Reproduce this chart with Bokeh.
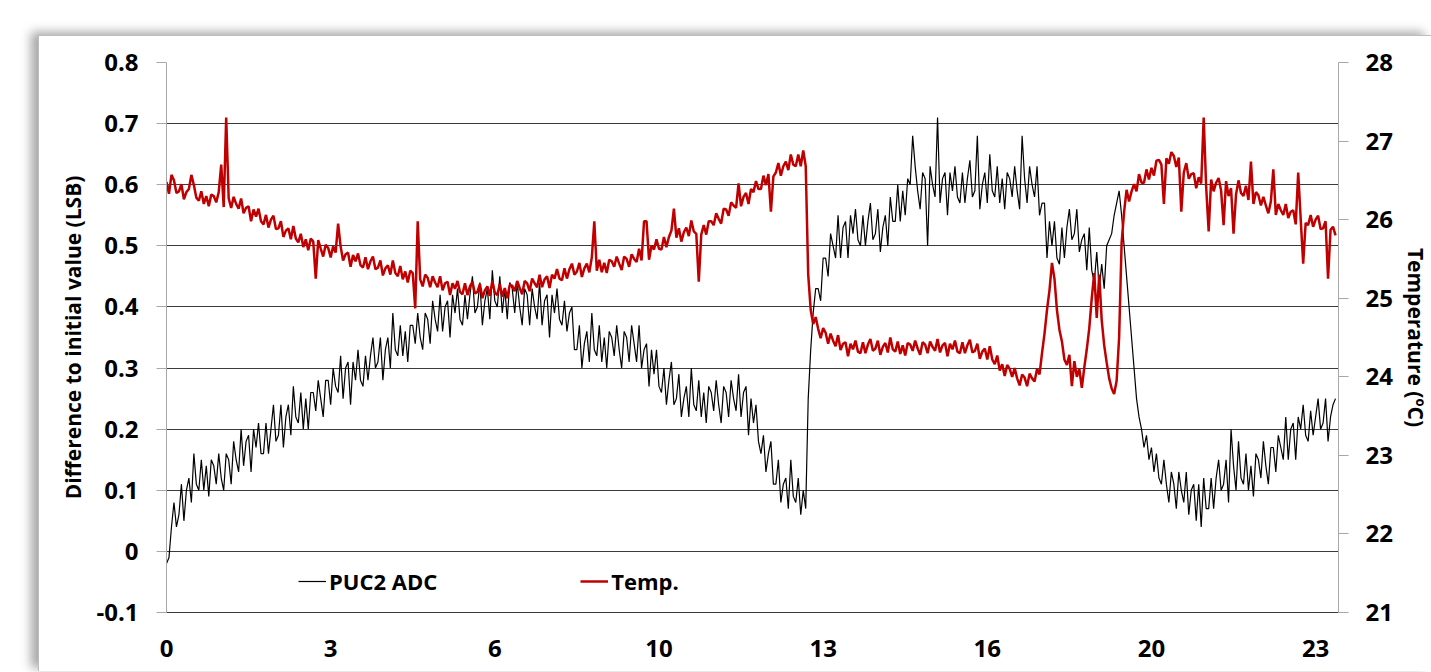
from bokeh.plotting import figure
from bokeh.models import Range1d, LinearAxis, FixedTicker, Legend, LegendItem
from bokeh.embed import file_html
from bokeh.resources import INLINE

# time grid (hours, one sample per 0.05 h)
hours = [round(i * 0.05, 2) for i in range(471)]

# PUC2 ADC: difference to initial value (LSB) (20 samples per hour)
adc = [
    -0.02, -0.01, 0.04, 0.08, 0.04, 0.06, 0.11, 0.05, 0.10, 0.12, 0.08, 0.16, 0.11, 0.10, 0.15, 0.10, 0.14, 0.09, 0.15, 0.14,
    0.11, 0.16, 0.12, 0.10, 0.16, 0.15, 0.11, 0.18, 0.15, 0.13, 0.20, 0.14, 0.18, 0.19, 0.13, 0.20, 0.17, 0.21, 0.16, 0.16,
    0.21, 0.16, 0.20, 0.24, 0.18, 0.19, 0.24, 0.17, 0.22, 0.24, 0.19, 0.27, 0.22, 0.21, 0.26, 0.20, 0.25, 0.20, 0.26, 0.26,
    0.23, 0.28, 0.25, 0.22, 0.28, 0.28, 0.24, 0.30, 0.27, 0.26, 0.32, 0.25, 0.30, 0.31, 0.24, 0.31, 0.28, 0.33, 0.28, 0.27,
    0.32, 0.28, 0.32, 0.35, 0.30, 0.31, 0.35, 0.28, 0.33, 0.35, 0.30, 0.39, 0.33, 0.32, 0.37, 0.32, 0.36, 0.31, 0.37, 0.37,
    0.34, 0.39, 0.35, 0.33, 0.39, 0.38, 0.34, 0.41, 0.38, 0.36, 0.42, 0.36, 0.40, 0.41, 0.35, 0.42, 0.39, 0.43, 0.38, 0.37,
    0.42, 0.38, 0.42, 0.45, 0.39, 0.40, 0.44, 0.37, 0.41, 0.43, 0.38, 0.46, 0.41, 0.40, 0.45, 0.39, 0.43, 0.38, 0.44, 0.43,
    0.39, 0.44, 0.40, 0.37, 0.43, 0.42, 0.37, 0.43, 0.40, 0.38, 0.44, 0.37, 0.41, 0.42, 0.35, 0.42, 0.39, 0.43, 0.38, 0.37,
    0.41, 0.36, 0.39, 0.40, 0.33, 0.33, 0.37, 0.30, 0.34, 0.36, 0.31, 0.39, 0.33, 0.32, 0.37, 0.31, 0.35, 0.30, 0.36, 0.35,
    0.32, 0.37, 0.33, 0.30, 0.36, 0.35, 0.31, 0.37, 0.34, 0.31, 0.37, 0.30, 0.33, 0.34, 0.27, 0.33, 0.29, 0.33, 0.27, 0.26,
    0.30, 0.24, 0.28, 0.31, 0.24, 0.25, 0.29, 0.22, 0.25, 0.27, 0.22, 0.30, 0.24, 0.23, 0.28, 0.22, 0.26, 0.21, 0.27, 0.26,
    0.23, 0.28, 0.24, 0.21, 0.27, 0.26, 0.22, 0.28, 0.25, 0.23, 0.29, 0.22, 0.26, 0.27, 0.19, 0.25, 0.21, 0.24, 0.18, 0.16,
    0.19, 0.13, 0.16, 0.18, 0.11, 0.11, 0.15, 0.08, 0.11, 0.12, 0.07, 0.15, 0.09, 0.08, 0.12, 0.06, 0.10, 0.07, 0.25, 0.33,
    0.39, 0.43, 0.43, 0.41, 0.48, 0.48, 0.45, 0.52, 0.50, 0.48, 0.55, 0.48, 0.53, 0.54, 0.48, 0.55, 0.52, 0.56, 0.51, 0.50,
    0.55, 0.50, 0.54, 0.57, 0.51, 0.52, 0.56, 0.49, 0.53, 0.55, 0.50, 0.58, 0.54, 0.54, 0.60, 0.54, 0.59, 0.55, 0.61, 0.60,
    0.68, 0.63, 0.59, 0.56, 0.62, 0.61, 0.50, 0.63, 0.60, 0.58, 0.71, 0.57, 0.61, 0.62, 0.55, 0.62, 0.59, 0.63, 0.58, 0.57,
    0.62, 0.57, 0.61, 0.64, 0.58, 0.59, 0.68, 0.56, 0.60, 0.62, 0.57, 0.65, 0.59, 0.58, 0.63, 0.57, 0.61, 0.56, 0.62, 0.61,
    0.58, 0.63, 0.59, 0.56, 0.68, 0.61, 0.57, 0.63, 0.60, 0.58, 0.63, 0.55, 0.57, 0.57, 0.48, 0.54, 0.50, 0.54, 0.48, 0.47,
    0.53, 0.48, 0.53, 0.56, 0.51, 0.52, 0.56, 0.49, 0.51, 0.52, 0.46, 0.53, 0.46, 0.44, 0.49, 0.43, 0.47, 0.43, 0.50, 0.51,
    0.52, 0.55, 0.57, 0.59, 0.55, 0.50, 0.45, 0.40, 0.35, 0.30, 0.25, 0.22, 0.20, 0.17, 0.19, 0.15, 0.17, 0.13, 0.16, 0.12,
    0.11, 0.15, 0.11, 0.08, 0.13, 0.11, 0.07, 0.13, 0.10, 0.08, 0.13, 0.06, 0.10, 0.11, 0.05, 0.11, 0.04, 0.12, 0.07, 0.07,
    0.12, 0.07, 0.12, 0.15, 0.10, 0.11, 0.15, 0.08, 0.20, 0.14, 0.10, 0.18, 0.12, 0.11, 0.16, 0.10, 0.14, 0.09, 0.16, 0.15,
    0.12, 0.18, 0.14, 0.11, 0.17, 0.17, 0.13, 0.19, 0.17, 0.15, 0.22, 0.15, 0.20, 0.21, 0.15, 0.22, 0.20, 0.24, 0.19, 0.18,
    0.23, 0.19, 0.22, 0.25, 0.20, 0.21, 0.25, 0.18, 0.22, 0.24, 0.25,
]

# Temperature (deg C) (20 samples per hour)
temp = [
    26.48, 26.33, 26.57, 26.50, 26.34, 26.36, 26.45, 26.26, 26.35, 26.39, 26.57, 26.44, 26.28, 26.24, 26.36, 26.20, 26.30, 26.17, 26.32, 26.30,
    26.22, 26.35, 26.70, 26.16, 27.30, 26.27, 26.15, 26.29, 26.20, 26.14, 26.27, 26.08, 26.15, 26.17, 25.98, 26.13, 26.04, 26.14, 25.98, 25.94,
    26.06, 25.90, 26.00, 26.05, 25.88, 25.89, 25.98, 25.78, 25.86, 25.89, 25.75, 25.92, 25.76, 25.71, 25.82, 25.65, 25.75, 25.61, 25.76, 25.72,
    25.25, 25.74, 25.63, 25.53, 25.68, 25.64, 25.52, 25.66, 25.58, 25.95, 25.66, 25.48, 25.56, 25.58, 25.40, 25.55, 25.47, 25.57, 25.42, 25.39,
    25.52, 25.37, 25.47, 25.53, 25.37, 25.39, 25.48, 25.29, 25.38, 25.42, 25.30, 25.48, 25.32, 25.28, 25.41, 25.24, 25.34, 25.20, 25.35, 25.32,
    24.87, 25.98, 25.24, 25.15, 25.30, 25.26, 25.14, 25.28, 25.20, 25.14, 25.28, 25.10, 25.19, 25.21, 25.04, 25.19, 25.12, 25.22, 25.08, 25.05,
    25.19, 25.04, 25.15, 25.21, 25.06, 25.08, 25.18, 25.00, 25.10, 25.15, 25.03, 25.22, 25.07, 25.04, 25.18, 25.02, 25.13, 25.00, 25.17, 25.16,
    25.09, 25.22, 25.13, 25.05, 25.22, 25.19, 25.09, 25.25, 25.19, 25.14, 25.30, 25.14, 25.24, 25.28, 25.13, 25.30, 25.25, 25.37, 25.25, 25.23,
    25.38, 25.25, 25.37, 25.44, 25.30, 25.34, 25.45, 25.27, 25.38, 25.44, 25.33, 25.52, 25.98, 25.35, 25.49, 25.33, 25.45, 25.32, 25.49, 25.47,
    25.40, 25.53, 25.44, 25.36, 25.53, 25.50, 25.40, 25.56, 25.50, 25.46, 25.63, 25.48, 25.98, 25.98, 25.49, 25.67, 25.62, 25.75, 25.63, 25.62,
    25.78, 25.65, 25.78, 25.86, 26.14, 25.77, 25.89, 25.72, 25.84, 25.90, 25.79, 25.99, 25.85, 25.82, 25.21, 25.81, 25.93, 25.81, 25.98, 25.98,
    25.93, 26.08, 26.01, 25.95, 26.14, 26.13, 26.05, 26.22, 26.18, 26.15, 26.46, 26.17, 26.29, 26.34, 26.20, 26.39, 26.35, 26.49, 26.39, 26.39,
    26.56, 26.44, 26.58, 26.10, 26.55, 26.60, 26.72, 26.56, 26.68, 26.74, 26.63, 26.83, 26.70, 26.68, 26.83, 26.68, 26.88, 26.68, 25.30, 24.85,
    24.67, 24.76, 24.61, 24.49, 24.62, 24.56, 24.42, 24.55, 24.46, 24.39, 24.53, 24.34, 24.42, 24.44, 24.26, 24.42, 24.35, 24.46, 24.32, 24.30,
    24.44, 24.30, 24.41, 24.48, 24.33, 24.36, 24.46, 24.28, 24.38, 24.43, 24.31, 24.50, 24.35, 24.32, 24.45, 24.29, 24.40, 24.27, 24.43, 24.41,
    24.33, 24.46, 24.36, 24.28, 24.44, 24.41, 24.30, 24.45, 24.38, 24.33, 24.48, 24.31, 24.40, 24.43, 24.26, 24.42, 24.35, 24.46, 24.32, 24.30,
    24.44, 24.30, 24.40, 24.47, 24.31, 24.33, 24.42, 24.23, 24.32, 24.36, 24.22, 24.39, 24.22, 24.16, 24.27, 24.08, 24.16, 24.01, 24.15, 24.10,
    24.00, 24.11, 23.98, 23.89, 24.03, 23.99, 23.88, 24.04, 23.98, 23.94, 24.10, 24.03, 24.30, 24.55, 24.85, 25.10, 25.45, 25.25, 24.85, 24.60,
    24.45, 24.22, 24.15, 24.28, 23.88, 24.20, 24.00, 24.10, 23.86, 24.12, 24.35, 24.62, 25.00, 25.32, 24.75, 25.30, 24.72, 24.40, 24.18, 23.98,
    23.85, 23.78, 23.95, 24.50, 25.70, 26.10, 26.38, 26.23, 26.36, 26.45, 26.36, 26.58, 26.47, 26.47, 26.64, 26.51, 26.66, 26.56, 26.75, 26.76,
    26.70, 26.20, 26.78, 26.71, 26.86, 26.81, 26.67, 26.79, 26.10, 26.60, 26.72, 26.52, 26.58, 26.59, 26.40, 26.54, 26.46, 27.30, 26.41, 25.85,
    26.51, 26.36, 26.47, 26.53, 26.37, 25.93, 26.49, 26.30, 26.40, 25.82, 26.32, 26.50, 26.34, 26.30, 26.43, 26.25, 26.74, 26.20, 26.35, 26.31,
    26.18, 26.29, 26.18, 26.08, 26.23, 26.64, 26.06, 26.20, 26.12, 26.06, 26.20, 26.02, 26.10, 26.12, 25.94, 26.60, 26.01, 25.44, 25.96, 25.93,
    26.06, 25.91, 26.00, 26.05, 25.88, 25.89, 25.98, 25.25, 25.87, 25.91, 25.80,
]

x_ticks = [0, 3.3, 6.6, 9.9, 13.2, 16.5, 19.8, 23.1]
x_labels = ["0", "3", "6", "10", "13", "16", "20", "23"]
left_ticks = [-0.1, 0, 0.1, 0.2, 0.3, 0.4, 0.5, 0.6, 0.7, 0.8]
left_labels = ["-0.1", "0", "0.1", "0.2", "0.3", "0.4", "0.5", "0.6", "0.7", "0.8"]
right_ticks = [21, 22, 23, 24, 25, 26, 27, 28]

FONT = "Open Sans"

p = figure(width=1393, height=636, output_backend="svg", toolbar_location=None,
           x_range=Range1d(0, 23.56), y_range=Range1d(-0.1, 0.8),
           min_border_left=127, min_border_right=88, min_border_top=26,
           min_border_bottom=60)
p.extra_y_ranges = {"temp": Range1d(21, 28)}
p.styles = {"transform": "translate(38px, 35px)",
            "border-top": "1px solid #bdbdbd",
            "border-left": "1px solid #bdbdbd",
            "box-shadow": "-7px -3px 10px rgba(0,0,0,0.35)"}
p.outline_line_color = None
p.xgrid.visible = False
p.ygrid.grid_line_color = "#3a3a3a"
p.ygrid.grid_line_width = 1.2

# bottom axis
xa = p.xaxis[0]
xa.ticker = FixedTicker(ticks=x_ticks)
xa.major_label_overrides = {t: l for t, l in zip(x_ticks, x_labels)}
xa.axis_line_color = "#3a3a3a"
xa.major_tick_line_color = None
xa.minor_tick_line_color = None
xa.major_label_standoff = 21
xa.major_label_text_font = FONT
xa.major_label_text_font_style = "bold"
xa.major_label_text_font_size = "24px"
xa.major_label_text_color = "black"

# left axis
ya = p.yaxis[0]
ya.ticker = FixedTicker(ticks=left_ticks)
ya.major_label_overrides = {t: l for t, l in zip(left_ticks, left_labels)}
ya.axis_line_color = "#a8a8a8"
ya.major_tick_line_color = "#a8a8a8"
ya.major_tick_out = 10
ya.major_tick_in = 0
ya.minor_tick_line_color = None
ya.major_label_standoff = 18
ya.major_label_text_font = FONT
ya.major_label_text_font_style = "bold"
ya.major_label_text_font_size = "24px"
ya.major_label_text_color = "black"
ya.axis_label = "Difference to initial value (LSB)"
ya.axis_label_text_font = FONT
ya.axis_label_text_font_style = "bold"
ya.axis_label_text_font_size = "21px"
ya.axis_label_text_color = "black"
ya.axis_label_standoff = 6

# right axis
ra = LinearAxis(y_range_name="temp", ticker=FixedTicker(ticks=right_ticks))
ra.axis_line_color = "#a8a8a8"
ra.major_tick_line_color = "#a8a8a8"
ra.major_tick_out = 10
ra.major_tick_in = 0
ra.minor_tick_line_color = None
ra.major_label_standoff = 17
ra.major_label_text_font = FONT
ra.major_label_text_font_style = "bold"
ra.major_label_text_font_size = "24px"
ra.major_label_text_color = "black"
ra.axis_label = "Temperature (ºC)"
ra.axis_label_text_font = FONT
ra.axis_label_text_font_style = "bold"
ra.axis_label_text_font_size = "21px"
ra.axis_label_text_color = "black"
ra.axis_label_standoff = 6
p.add_layout(ra, "right")

r_adc = p.line(hours, adc, line_color="black", line_width=1.2)
r_temp = p.line(hours, temp, y_range_name="temp", line_color="#C00000", line_width=2.5)

legend = Legend(items=[LegendItem(label="PUC2 ADC", renderers=[r_adc]),
                       LegendItem(label="Temp.", renderers=[r_temp])],
                location=(132, 16), orientation="horizontal",
                glyph_width=28, glyph_height=20, label_standoff=3, spacing=143,
                padding=0, margin=0, border_line_color=None,
                background_fill_alpha=0,
                label_text_font=FONT, label_text_font_style="bold",
                label_text_font_size="22px", label_text_color="black")
p.add_layout(legend)

open("out.html", "w").write(file_html(p, INLINE))
